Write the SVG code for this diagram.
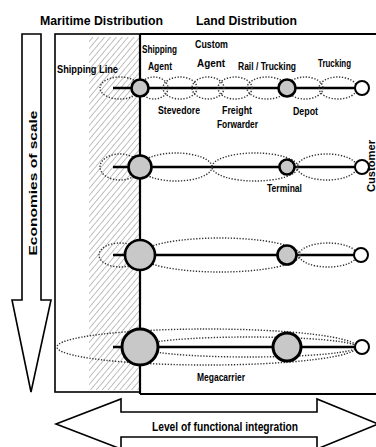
<svg xmlns="http://www.w3.org/2000/svg" width="376" height="447" viewBox="0 0 376 447">
<defs>
<pattern id="hatch" width="4.5" height="4.5" patternUnits="userSpaceOnUse" patternTransform="rotate(40)">
<line x1="0" y1="0" x2="0" y2="4.5" stroke="#8c8c8c" stroke-width="1.1"/>
</pattern>
<style>
text{font-family:"Liberation Sans",Arial,sans-serif;font-weight:bold;fill:#000}
.t{font-size:13.5px}
.l{font-size:11px}
.dot{fill:none;stroke:#333;stroke-width:1.4;stroke-dasharray:1.3 1.6}
.hub{fill:#c8c8c8;stroke:#000;stroke-width:2.6}
.cust{fill:#fff;stroke:#000;stroke-width:2}
.ln{stroke:#000;stroke-width:2.6;fill:none}
.box{fill:#fff;stroke:#000;stroke-width:1.6}
</style>
</defs>
<rect width="376" height="447" fill="#fff"/>
<g id="titles">
<text class="t" x="40" y="25" textLength="123" lengthAdjust="spacingAndGlyphs">Maritime Distribution</text>
<text class="t" x="196" y="25" textLength="101" lengthAdjust="spacingAndGlyphs">Land Distribution</text>
</g>
<g id="scale-arrow">
<polygon class="box" points="22,34 41,34 41,300 51,300 31,392 12,300 22,300"/>
<text transform="translate(36.5,183) rotate(-90)" text-anchor="middle" style="font-size:11.5px" textLength="145" lengthAdjust="spacingAndGlyphs">Economies of scale</text>
</g>
<g id="frame">
<rect class="box" x="55" y="34" width="85" height="358"/>
<rect x="89" y="37" width="50" height="353" fill="url(#hatch)"/>
<polyline class="ln" style="stroke-width:2" points="140,34 378,34"/>
<polyline class="ln" style="stroke-width:2" points="140,394 378,394"/>
</g>
<g id="connectors">
<line class="ln" x1="140" y1="34" x2="140" y2="394" style="stroke-width:2.2"/>
<line class="ln" x1="113" y1="88" x2="356" y2="88"/>
<line class="ln" x1="113" y1="167" x2="356" y2="167"/>
<line class="ln" x1="113" y1="255" x2="355" y2="255"/>
<line class="ln" x1="113" y1="347" x2="356" y2="347"/>
</g>
<g id="row1-scopes">
<ellipse class="dot" cx="120" cy="88" rx="20" ry="11"/>
<ellipse class="dot" cx="154" cy="88" rx="14" ry="11"/>
<ellipse class="dot" cx="180" cy="88" rx="17" ry="11"/>
<ellipse class="dot" cx="208" cy="88" rx="16" ry="11"/>
<ellipse class="dot" cx="235" cy="88" rx="17" ry="11"/>
<ellipse class="dot" cx="267" cy="88" rx="20" ry="11"/>
<ellipse class="dot" cx="305" cy="88" rx="18" ry="11"/>
<ellipse class="dot" cx="338" cy="88" rx="19" ry="11"/>
</g>
<g id="row2-scopes">
<ellipse class="dot" cx="120" cy="167" rx="20" ry="13"/>
<ellipse class="dot" cx="176" cy="167" rx="36" ry="14"/>
<ellipse class="dot" cx="255" cy="167" rx="43" ry="14"/>
<ellipse class="dot" cx="327" cy="167" rx="30" ry="13"/>
</g>
<g id="row3-scopes">
<ellipse class="dot" cx="120" cy="255" rx="21" ry="12"/>
<ellipse class="dot" cx="220" cy="255" rx="80" ry="17"/>
<ellipse class="dot" cx="328" cy="255" rx="29" ry="12"/>
</g>
<g id="row4-scopes">
<ellipse class="dot" cx="207" cy="347" rx="150" ry="18"/>
<ellipse class="dot" cx="249" cy="347" rx="108" ry="10"/>
</g>
<g id="row1-nodes">
<circle class="hub" cx="140" cy="88" r="8.5"/>
<circle class="hub" cx="287" cy="88" r="8.5"/>
<circle class="cust" cx="362" cy="88" r="7"/>
</g>
<g id="row2-nodes">
<circle class="hub" cx="140" cy="167" r="11.5"/>
<circle class="hub" cx="287" cy="167" r="7.5"/>
<circle class="cust" cx="362" cy="167" r="7"/>
</g>
<g id="row3-nodes">
<circle class="hub" cx="140" cy="255" r="15"/>
<circle class="hub" cx="287" cy="255" r="9.5"/>
<circle class="cust" cx="361" cy="255" r="7"/>
</g>
<g id="row4-nodes">
<circle class="hub" cx="140" cy="347" r="18" style="stroke-width:3"/>
<circle class="hub" cx="287" cy="347" r="14" style="stroke-width:3"/>
<circle class="cust" cx="362" cy="347" r="7"/>
</g>
<g id="labels">
<text class="l" x="57" y="73" textLength="61" lengthAdjust="spacingAndGlyphs">Shipping Line</text>
<text class="l" x="142" y="53" textLength="35" lengthAdjust="spacingAndGlyphs">Shipping</text>
<text class="l" x="148" y="70" textLength="24" lengthAdjust="spacingAndGlyphs">Agent</text>
<text class="l" x="195" y="48" textLength="33" lengthAdjust="spacingAndGlyphs">Custom</text>
<text class="l" x="197" y="67" textLength="28" lengthAdjust="spacingAndGlyphs">Agent</text>
<text class="l" x="238" y="70" textLength="58" lengthAdjust="spacingAndGlyphs">Rail / Trucking</text>
<text class="l" x="318" y="67" textLength="33" lengthAdjust="spacingAndGlyphs">Trucking</text>
<text class="l" x="158" y="114" textLength="42" lengthAdjust="spacingAndGlyphs">Stevedore</text>
<text class="l" x="222" y="114" textLength="30" lengthAdjust="spacingAndGlyphs">Freight</text>
<text class="l" x="217" y="128" textLength="41" lengthAdjust="spacingAndGlyphs">Forwarder</text>
<text class="l" x="293" y="115" textLength="25" lengthAdjust="spacingAndGlyphs">Depot</text>
<text class="l" x="267" y="192" textLength="35" lengthAdjust="spacingAndGlyphs">Terminal</text>
<text class="l" transform="translate(375,166) rotate(-90)" text-anchor="middle" textLength="52" lengthAdjust="spacingAndGlyphs">Customer</text>
<text class="l" x="197" y="381" textLength="48" lengthAdjust="spacingAndGlyphs">Megacarrier</text>
</g>
<g id="integration-arrow">
<polygon class="box" points="56,424 121,399 121,412 317,412 317,399 378,424 317,449 317,437 121,437 121,449"/>
<text class="l" style="font-size:12px" x="152" y="431" textLength="146" lengthAdjust="spacingAndGlyphs">Level of functional integration</text>
</g>
</svg>
